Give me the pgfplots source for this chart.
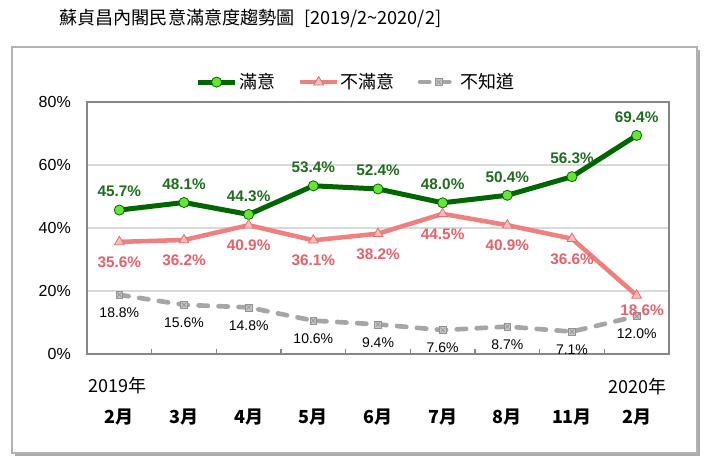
\documentclass[border=0pt]{standalone}
\usepackage{fontspec}
\setmainfont{Liberation Sans}
\newfontfamily\cjk{Noto Sans CJK TC}
\usepackage{pgfplots}
\pgfplotsset{compat=1.18}
\definecolor{satline}{RGB}{0,102,0}
\definecolor{satfill}{RGB}{102,230,51}
\definecolor{sattext}{RGB}{30,110,30}
\definecolor{disline}{RGB}{240,128,128}
\definecolor{disfill}{RGB}{255,190,190}
\definecolor{disedge}{RGB}{230,110,110}
\definecolor{distext}{RGB}{232,96,106}
\definecolor{dkline}{RGB}{166,166,166}
\definecolor{framegray}{RGB}{134,134,134}
\definecolor{gridgray}{RGB}{217,217,217}

% small square with a cross, for the "don't know" series
\pgfdeclareplotmark{sqx}{%
  \pgfpathrectangle{\pgfqpoint{-\pgfplotmarksize}{-\pgfplotmarksize}}%
                   {\pgfqpoint{2\pgfplotmarksize}{2\pgfplotmarksize}}%
  \pgfusepathqfillstroke
  \pgfpathmoveto{\pgfqpoint{-0.6\pgfplotmarksize}{-0.6\pgfplotmarksize}}%
  \pgfpathlineto{\pgfqpoint{0.6\pgfplotmarksize}{0.6\pgfplotmarksize}}%
  \pgfpathmoveto{\pgfqpoint{-0.6\pgfplotmarksize}{0.6\pgfplotmarksize}}%
  \pgfpathlineto{\pgfqpoint{0.6\pgfplotmarksize}{-0.6\pgfplotmarksize}}%
  \pgfusepathqstroke
}

\pgfplotsset{
  pct/.style={nodes near coords={\pgfmathprintnumber[fixed,fixed zerofill,precision=1]{\pgfplotspointmeta}\%}},
}

\begin{document}
\begin{tikzpicture}[x=0.75pt,y=0.75pt]
\useasboundingbox (0,0) rectangle (709,465);
% frame with shadow
\fill[gray!65] (15,9) rectangle (700,415);
\filldraw[fill=white,draw=gray!60,line width=0.8pt] (12,12) rectangle (697,418);
\node[anchor=west,inner sep=0pt,font=\cjk\fontsize{13.6}{16}\selectfont]
  at (59,447) {蘇貞昌內閣民意滿意度趨勢圖\enspace[2019/2\textasciitilde 2020/2]};

\begin{axis}[
  at={(65.25pt,83.25pt)}, anchor=south west,
  scale only axis, width=436.5pt, height=189pt,
  /pgf/number format/assume math mode=true,
  xmin=-0.5, xmax=8.5, ymin=0, ymax=80,
  xtick={0,...,8},
  xticklabels={2月,3月,4月,5月,6月,7月,8月,11月,2月},
  xticklabel style={font=\cjk\bfseries\fontsize{13.5}{16}\selectfont,
                    anchor=center, yshift=-47pt},
  minor xtick={0.5,1.5,...,7.5},
  major tick length=0pt, minor tick length=4pt,
  tick align=inside, xtick pos=bottom, ytick pos=left,
  ytick={0,20,...,80},
  yticklabel={\pgfmathprintnumber{\tick}\%},
  yticklabel style={font=\fontsize{12}{14}\selectfont, anchor=east,
                    inner sep=0pt, xshift=-12pt},
  ymajorgrids, grid style={gridgray, line width=0.8pt},
  axis line style={framegray, line width=0.8pt},
  minor tick style={framegray, line width=0.8pt},
  legend columns=3,
  legend style={at={(0.462,1.079)}, anchor=center, draw=none, fill=none,
                font=\cjk\fontsize{13.5}{16}\selectfont,
                nodes={inner sep=1pt},
                /tikz/every even column/.append style={column sep=16pt}},
  legend image code/.code={%
    \draw[mark repeat=2,mark phase=2,#1]
      plot coordinates {(0pt,0pt) (14pt,0pt) (28pt,0pt)};},
]
\addplot[satline, line width=3.75pt, mark=*, mark size=3.8pt,
  mark options={fill=satfill, draw=satline, line width=0.6pt, solid},
  pct, nodes near coords align={above},
  every node near coord/.append style={text=sattext,
    font=\bfseries\fontsize{11.5}{13}\selectfont, inner sep=0pt, yshift=9.5pt}]
  coordinates {(0,45.7)(1,48.1)(2,44.3)(3,53.4)(4,52.4)(5,48.0)(6,50.4)(7,56.3)(8,69.4)};
\addlegendentry{滿意}

\addplot[disline, line width=3.4pt, mark=triangle*, mark size=4.2pt,
  mark options={fill=disfill, draw=disedge, line width=0.6pt, solid}]
  coordinates {(0,35.6)(1,36.2)(2,40.9)(3,36.1)(4,38.2)(5,44.5)(6,40.9)(7,36.6)(8,18.6)};
\addlegendentry{不滿意}

\addplot[dkline, line width=3.5pt, line cap=round, dash pattern=on 7pt off 8pt,
  mark=sqx, mark size=2.6pt,
  mark options={fill=gray!45, draw=gray!85, line width=0.5pt, solid},
  pct, nodes near coords align={below},
  every node near coord/.append style={text=black,
    font=\fontsize{10.5}{12}\selectfont, inner sep=0pt, yshift=-9.5pt}]
  coordinates {(0,18.8)(1,15.6)(2,14.8)(3,10.6)(4,9.4)(5,7.6)(6,8.7)(7,7.1)(8,12.0)};
\addlegendentry{不知道}

% labels of the dissatisfied series
\addplot[draw=none, mark=none, forget plot, pct, nodes near coords align={below},
  every node near coord/.append style={text=distext,
    font=\bfseries\fontsize{11.5}{13}\selectfont, inner sep=0pt, yshift=-11pt}]
  coordinates {(0,35.6)(1,36.2)(2,40.9)(3,36.1)(4,38.2)(5,44.5)(6,40.9)(7,36.6)};
\addplot[draw=none, mark=none, forget plot, pct, nodes near coords align={below},
  every node near coord/.append style={text=distext,
    font=\bfseries\fontsize{11.5}{13}\selectfont, inner sep=0pt, yshift=-7pt, xshift=4pt}]
  coordinates {(8,18.6)};
\end{axis}

\node[anchor=west,inner sep=0pt,font=\cjk\fontsize{13.5}{16}\selectfont] at (88,79) {2019年};
\node[anchor=east,inner sep=0pt,font=\cjk\fontsize{13.5}{16}\selectfont] at (667,78) {2020年};
\end{tikzpicture}
\end{document}
